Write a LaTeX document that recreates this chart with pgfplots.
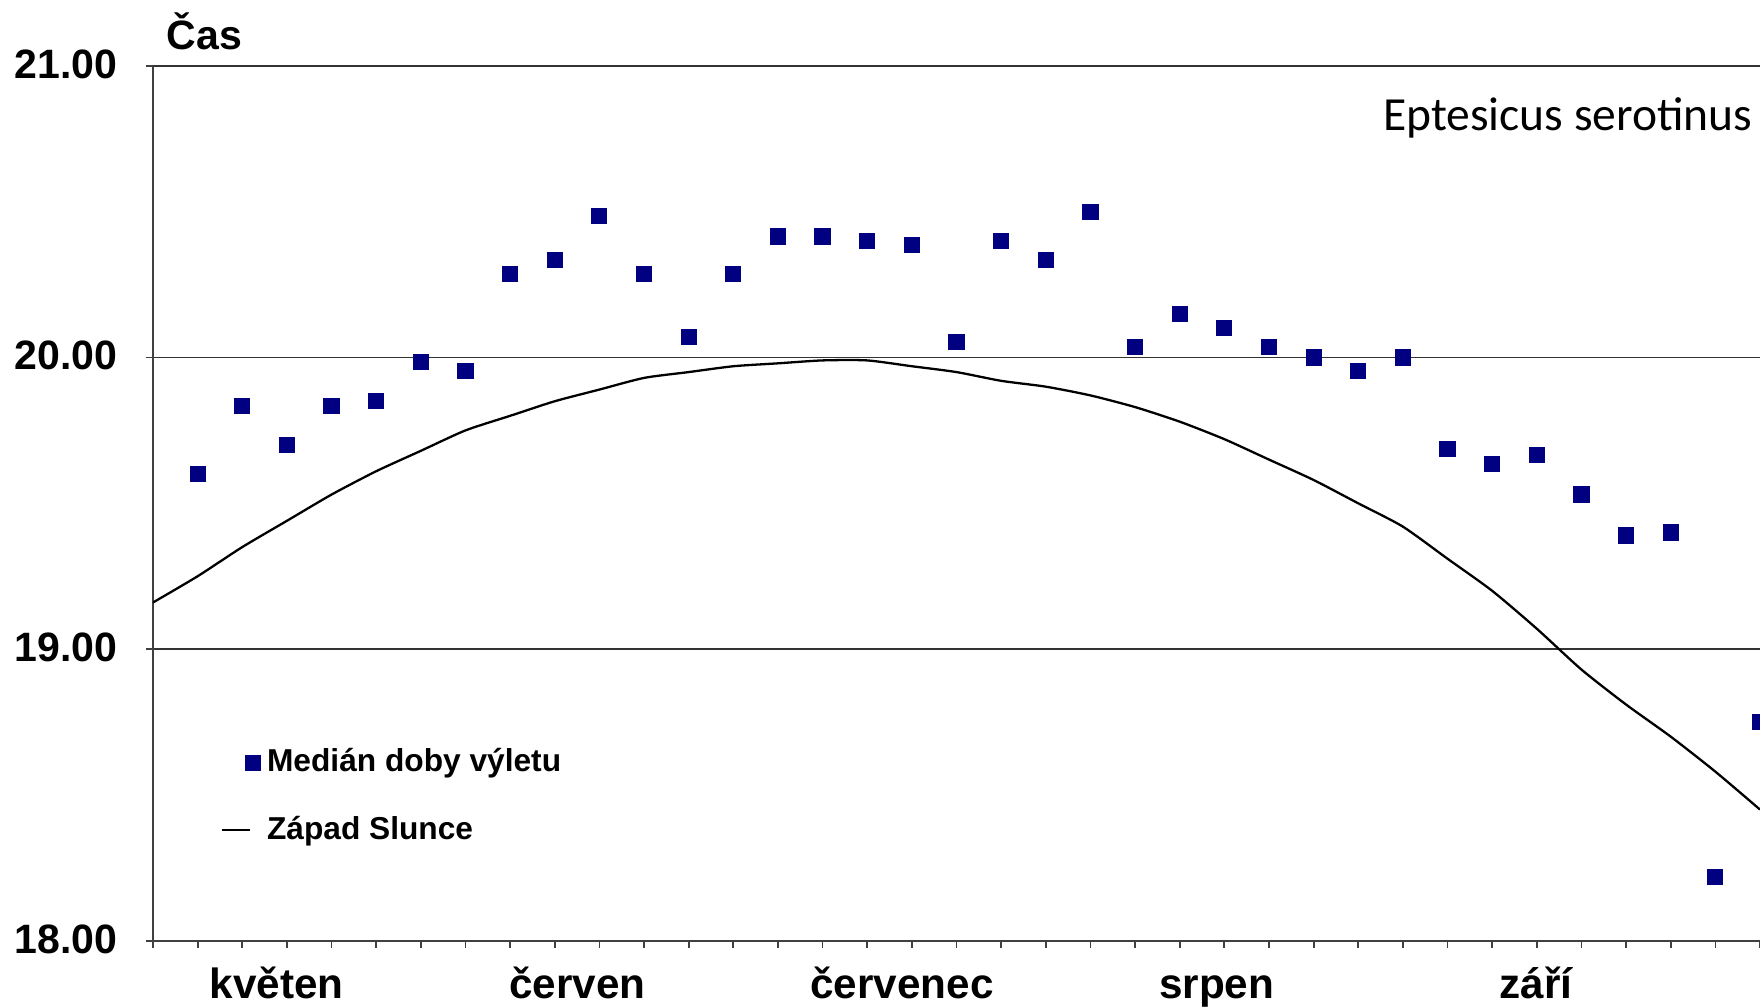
\documentclass[border=0pt]{standalone}
\usepackage{fontspec}
\setmainfont{Liberation Sans}
\newfontfamily\carlito{Carlito}
\usepackage{pgfplots}
\pgfplotsset{compat=1.18}

\definecolor{navy}{RGB}{0,0,128}

% median emergence time (hours) per period
\pgfplotstableread{
x y
1 19.60
2 19.835
3 19.70
4 19.835
5 19.85
6 19.985
7 19.954
8 20.285
9 20.335
10 20.485
11 20.285
12 20.07
13 20.285
14 20.415
15 20.415
16 20.40
17 20.385
18 20.054
19 20.40
20 20.335
21 20.50
22 20.035
23 20.15
24 20.10
25 20.035
26 20.00
27 19.954
28 20.00
29 19.685
30 19.635
31 19.665
32 19.53
33 19.39
34 19.40
35 18.22
36 18.75
}\medtab

% sunset
\pgfplotstableread{
x y
0 19.16
1 19.25
2 19.35
3 19.44
4 19.53
5 19.61
6 19.68
7 19.75
8 19.80
9 19.85
10 19.89
11 19.93
12 19.95
13 19.97
14 19.98
15 19.99
16 19.99
17 19.97
18 19.95
19 19.92
20 19.90
21 19.87
22 19.83
23 19.78
24 19.72
25 19.65
26 19.58
27 19.50
28 19.42
29 19.31
30 19.20
31 19.07
32 18.93
33 18.81
34 18.70
35 18.58
36 18.45
}\suntab

\begin{document}
\begin{tikzpicture}
\begin{axis}[
  at={(0,0)}, anchor=south west,
  scale only axis,
  width=456.4pt, height=248.5pt,
  xmin=0, xmax=36, ymin=18, ymax=21,
  clip mode=individual,
  clip marker paths=true,
  axis x line=bottom, axis y line=left,
  axis line style={-, line width=0.6pt, draw=black!75},
  tick align=outside,
  tick style={line width=0.5pt, draw=black!75},
  xtick={0,...,36},
  xticklabels={},
  major tick length=2pt,
  extra x ticks={2.77,9.51,16.78,23.83,30.98},
  extra x tick labels={květen,červen,červenec,srpen,září},
  extra x tick style={major tick length=0pt, grid=none,
    xticklabel style={anchor=base, inner sep=0pt, yshift=-16.5pt,
      font=\fontsize{12}{14}\selectfont\bfseries}},
  ytick={18,19,20,21},
  ymajorgrids,
  grid style={line width=0.5pt, draw=black!80},
  yticklabel style={anchor=east, inner sep=0pt, xshift=-8pt, yshift=0.5pt,
    font=\fontsize{11.65}{13}\selectfont\bfseries},
  /pgf/number format/.cd, fixed, fixed zerofill, precision=2, assume math mode=true,
  /pgfplots/.cd,
  legend cell align=left,
  legend style={draw=none, fill=none, at={(axis cs:1.27,18.71)}, anchor=north west,
    font=\fontsize{9}{10}\selectfont\bfseries, row sep=7pt,
    /tikz/every even column/.append style={column sep=0pt}},
]
\addplot[only marks, mark=square*, mark size=2.1pt, color=navy,
  legend image code/.code={\draw[only marks, mark=square*, mark size=2.1pt] plot coordinates {(8.8pt,0pt)};}]
  table[x=x, y=y] {\medtab};
\addlegendentry{Medián doby výletu}
\addplot[black, line width=0.65pt, smooth, tension=0.4, no marks,
  legend image code/.code={\draw[line width=0.4pt] (0pt,0pt) -- (8pt,0pt);}]
  table[x=x, y=y] {\suntab};
\addlegendentry{Západ Slunce}

\node[anchor=base west, inner sep=0pt, font=\fontsize{11.65}{13}\selectfont\bfseries]
  at (rel axis cs:0,1) [xshift=3.7pt, yshift=4.5pt] {Čas};
\node[anchor=base east, inner sep=0pt, font=\carlito\fontsize{13.5}{15}\selectfont]
  at (rel axis cs:1,1) [xshift=-2pt, yshift=-18.5pt] {Eptesicus serotinus};
\end{axis}
\pgfresetboundingbox
\useasboundingbox (-43.45pt,-18.74pt) rectangle (456.4pt,267.2pt);
\end{tikzpicture}
\end{document}
